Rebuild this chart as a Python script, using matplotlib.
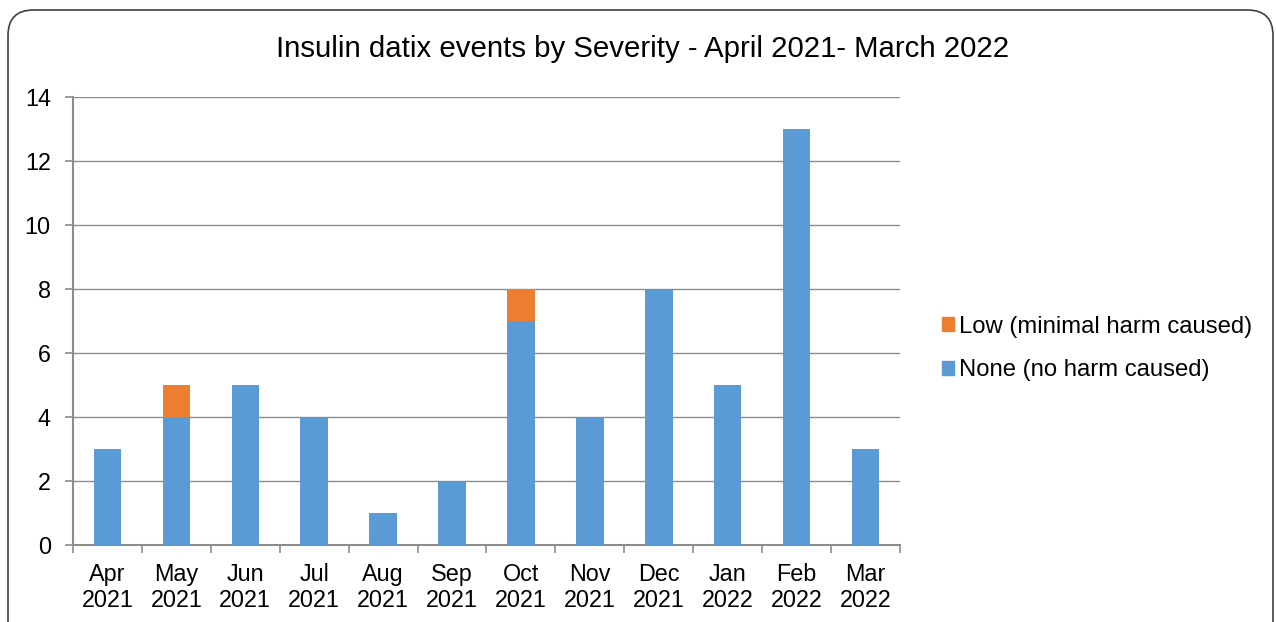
import matplotlib.pyplot as plt
import matplotlib.patches as mpatches
from matplotlib.patches import FancyBboxPatch
import numpy as np

plt.rcParams['font.family'] = ['Liberation Sans', 'DejaVu Sans']

# Data
months = ['Apr\n2021', 'May\n2021', 'Jun\n2021', 'Jul\n2021', 'Aug\n2021', 'Sep\n2021',
          'Oct\n2021', 'Nov\n2021', 'Dec\n2021', 'Jan\n2022', 'Feb\n2022', 'Mar\n2022']
none_harm = [3, 4, 5, 4, 1, 2, 7, 4, 8, 5, 13, 3]
low_harm = [0, 1, 0, 0, 0, 0, 1, 0, 0, 0, 0, 0]

BLUE = '#5B9BD5'
ORANGE = '#ED7D31'
GRID = '#8C8C8C'

W, H = 1276, 622
fig = plt.figure(figsize=(W / 100, H / 100), dpi=100)

# rounded border round the whole chart
border = FancyBboxPatch((8 / W, -40 / H), 1265 / W, 652 / H,
                        boxstyle='round,pad=0,rounding_size=0.02',
                        transform=fig.transFigure, fill=False,
                        edgecolor='#404040', linewidth=1.2,
                        mutation_aspect=W / H)
fig.patches.append(border)

ax = fig.add_axes([73 / W, 77 / H, 827 / W, 448 / H])

x = np.arange(len(months))
ax.bar(x, none_harm, width=0.4, color=BLUE, zorder=3)
ax.bar(x, low_harm, width=0.4, bottom=none_harm, color=ORANGE, zorder=3)

ax.set_xlim(-0.5, len(months) - 0.5)
ax.set_ylim(0, 14)
ax.set_yticks(range(0, 15, 2))
ax.yaxis.grid(True, color=GRID, linewidth=1.0, zorder=0)

ax.set_xticks(x)
ax.set_xticklabels(months, fontsize=16.8, linespacing=1.17)
ax.set_xticks(np.arange(-0.5, len(months), 1), minor=True)
ax.tick_params(axis='x', which='major', length=0, pad=13)
ax.tick_params(axis='x', which='minor', length=6, color=GRID, width=1.2)
ax.tick_params(axis='y', length=6, color=GRID, width=1.2, labelsize=16.8, pad=10)

for side in ['top', 'right']:
    ax.spines[side].set_visible(False)
for side in ['left', 'bottom']:
    ax.spines[side].set_color(GRID)
    ax.spines[side].set_linewidth(1.5)

fig.text(643 / W, 1 - 57 / H, 'Insulin datix events by Severity - April 2021- March 2022',
         ha='center', va='baseline', fontsize=21.2)

handles = [mpatches.Patch(color=ORANGE, label='Low (minimal harm caused)'),
           mpatches.Patch(color=BLUE, label='None (no harm caused)')]
fig.legend(handles=handles, loc='center left', bbox_to_anchor=(942 / W, 1 - 348.5 / H),
           frameon=False, fontsize=17.2, handlelength=0.5, handleheight=0.5,
           handletextpad=0.2, labelspacing=0.92, borderpad=0, borderaxespad=0)

fig.savefig('out.png', dpi=100)
